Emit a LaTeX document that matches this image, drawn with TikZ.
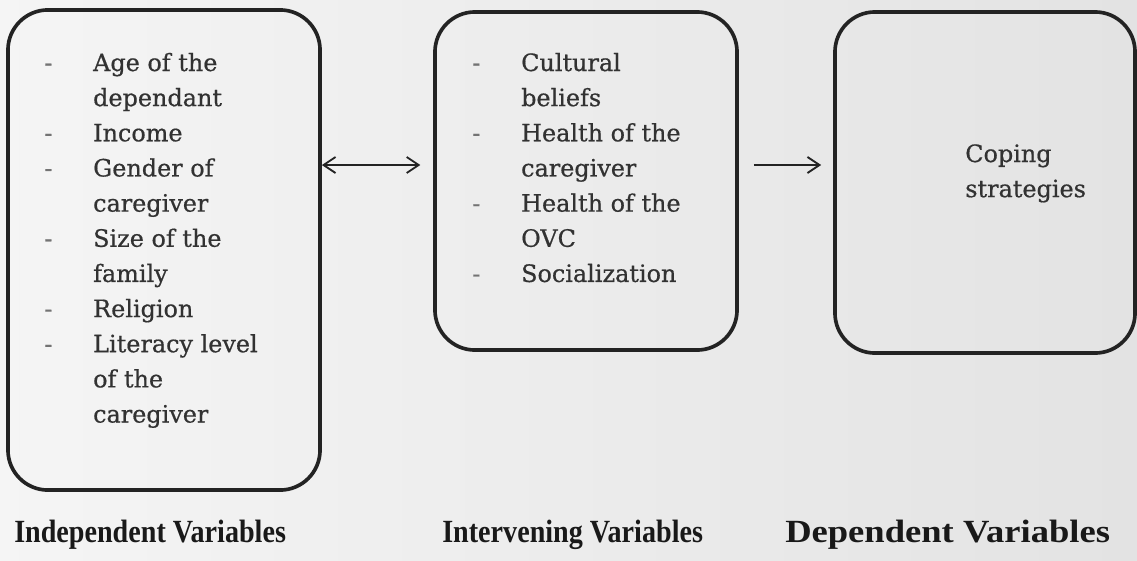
\documentclass[tikz,border=0pt]{standalone}
\usepackage{fontspec}
\setmainfont{DejaVu Serif}
\newfontfamily\itemfont{DejaVu Serif}[FakeBold=0.6]
\newfontfamily\capfont{Liberation Serif}
\usepackage{xcolor}
\usetikzlibrary{arrows.meta, positioning, calc}

\definecolor{inkgray}{RGB}{50,50,50}
\definecolor{linegray}{RGB}{35,35,35}
\newcommand{\itemdash}{\textcolor{black!55}{-}}
\newcommand{\captext}[2][1]{\scalebox{#1}[1.15]{#2}}

\begin{document}
\begin{tikzpicture}[
    x=0.025cm, y=-0.025cm,
    box/.style={rectangle, draw=linegray, line width=2.6pt, rounded corners=1cm, inner sep=0pt},
    items/.style={anchor=base west, inner sep=0pt, text=inkgray, font=\itemfont\fontsize{17}{25}\selectfont},
    caption/.style={anchor=base west, inner sep=0pt, text=black!90, font=\capfont\bfseries\fontsize{20}{24}\selectfont},
    arr/.style={-{Straight Barb[length=3mm, width=4mm]}, line width=1.3pt, draw=linegray},
    biarr/.style={{Straight Barb[length=3mm, width=4mm]}-{Straight Barb[length=3mm, width=4mm]}, line width=1.3pt, draw=linegray},
]
% Paper
\shade[left color=black!4, right color=black!11] (0,0) rectangle (1137,560);
\useasboundingbox (0,0) rectangle (1137,560);

% Boxes
\node[box, minimum width=7.8cm, minimum height=12cm] (indep) at (164,250) {};
\node[box, minimum width=7.55cm, minimum height=8.45cm] (interv) at (586,181) {};
\node[box, minimum width=7.5cm, minimum height=8.525cm] (dep) at (985,182.5) {};

% Box contents
\node[items] (indepList) at (44,71) {\begin{tabular}[t]{@{}l@{\hspace{1.02cm}}l@{}}
\itemdash & Age of the\\
          & dependant\\
\itemdash & Income\\
\itemdash & Gender of\\
          & caregiver\\
\itemdash & Size of the\\
          & family\\
\itemdash & Religion\\
\itemdash & Literacy level\\
          & of the\\
          & caregiver
\end{tabular}};
\node[items] (intervList) at (472,71) {\begin{tabular}[t]{@{}l@{\hspace{1.02cm}}l@{}}
\itemdash & Cultural\\
          & beliefs\\
\itemdash & Health of the\\
          & caregiver\\
\itemdash & Health of the\\
          & OVC\\
\itemdash & Socialization
\end{tabular}};
\node[items] (depList) at (965,162) {\begin{tabular}[t]{@{}l@{}}
Coping\\
strategies
\end{tabular}};

% Links
\coordinate (lvl) at (0,165);
\draw[biarr, shorten >=0.32cm] (indep.east |- lvl) -- (interv.west |- lvl);
\draw[arr, shorten <=0.375cm, shorten >=0.3cm] (interv.east |- lvl) -- (dep.west |- lvl);

% Captions
\node[caption] (indepCap) at (14,542) {\captext{Independent Variables}};
\node[caption] (intervCap) at (442,542) {\captext{Intervening Variables}};
\node[caption] (depCap) at (785,542) {\captext[1.3]{Dependent Variables}};
\end{tikzpicture}
\end{document}
